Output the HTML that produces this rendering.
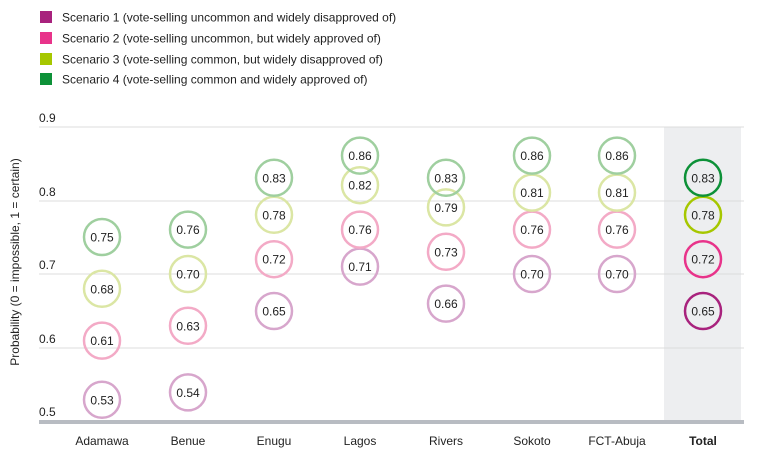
<!DOCTYPE html>
<html><head><style>body{margin:0;background:#fff}svg{display:block;font-family:"Liberation Sans",sans-serif}</style></head><body>
<svg width="764" height="475" viewBox="0 0 764 475" xmlns="http://www.w3.org/2000/svg">
<defs>
<style>.p1{stroke:#d7a6cc}.p2{stroke:#f3aac6}.p3{stroke:#dbe6a4}.p4{stroke:#9fcf9f}.d1{stroke:#a8227d}.d2{stroke:#e8338a}.d3{stroke:#a6c700}.d4{stroke:#0d9138}circle{fill:none;stroke-width:2.5}</style>
</defs>
<g font-size="12" fill="#222">
<rect x="40" y="11" width="12" height="12" fill="#a8227d"/><text x="62" y="21.5">Scenario 1 (vote-selling uncommon and widely disapproved of)</text>
<rect x="40" y="32" width="12" height="12" fill="#e8338a"/><text x="62" y="42.5">Scenario 2 (vote-selling uncommon, but widely approved of)</text>
<rect x="40" y="53" width="12" height="12" fill="#a6c700"/><text x="62" y="63.5">Scenario 3 (vote-selling common, but widely disapproved of)</text>
<rect x="40" y="73" width="12" height="12" fill="#0d9138"/><text x="62" y="83.5">Scenario 4 (vote-selling common and widely approved of)</text>
</g>
<rect x="664" y="127" width="77" height="295" fill="#edeef0"/>
<g stroke="#dcdcdc" stroke-width="1">
<line x1="39" y1="127" x2="744" y2="127"/><line x1="39" y1="201" x2="744" y2="201"/><line x1="39" y1="274" x2="744" y2="274"/><line x1="39" y1="348" x2="744" y2="348"/>
</g>
<rect x="39" y="420" width="705" height="4" fill="#b8bcc2"/>
<g font-size="12" fill="#222">
<text x="39" y="122">0.9</text><text x="39" y="196">0.8</text><text x="39" y="269">0.7</text><text x="39" y="343">0.6</text><text x="39" y="416">0.5</text>
<text transform="translate(19,262) rotate(-90)" text-anchor="middle">Probability (0 = impossible, 1 = certain)</text>
</g>
<g font-size="12" fill="#222" text-anchor="middle">
<text x="102" y="445">Adamawa</text><text x="188" y="445">Benue</text><text x="274" y="445">Enugu</text><text x="360" y="445">Lagos</text><text x="446" y="445">Rivers</text><text x="532" y="445">Sokoto</text><text x="617" y="445">FCT-Abuja</text><text x="703" y="445" font-weight="bold">Total</text>
</g>
<g>
<circle class="p1" cx="102" cy="399.8" r="18"/><circle class="p2" cx="102" cy="340.6" r="18"/><circle class="p3" cx="102" cy="288.8" r="18"/><circle class="p4" cx="102" cy="237" r="18"/>
<circle class="p1" cx="188" cy="392.4" r="18"/><circle class="p2" cx="188" cy="325.8" r="18"/><circle class="p3" cx="188" cy="274" r="18"/><circle class="p4" cx="188" cy="229.6" r="18"/>
<circle class="p1" cx="274" cy="311" r="18"/><circle class="p2" cx="274" cy="259.2" r="18"/><circle class="p3" cx="274" cy="214.8" r="18"/><circle class="p4" cx="274" cy="177.8" r="18"/>
<circle class="p1" cx="360" cy="266.6" r="18"/><circle class="p2" cx="360" cy="229.6" r="18"/><circle class="p3" cx="360" cy="185.2" r="18"/><circle class="p4" cx="360" cy="155.6" r="18"/>
<circle class="p1" cx="446" cy="303.6" r="18"/><circle class="p2" cx="446" cy="251.8" r="18"/><circle class="p3" cx="446" cy="207.4" r="18"/><circle class="p4" cx="446" cy="177.8" r="18"/>
<circle class="p1" cx="532" cy="274" r="18"/><circle class="p2" cx="532" cy="229.6" r="18"/><circle class="p3" cx="532" cy="192.6" r="18"/><circle class="p4" cx="532" cy="155.6" r="18"/>
<circle class="p1" cx="617" cy="274" r="18"/><circle class="p2" cx="617" cy="229.6" r="18"/><circle class="p3" cx="617" cy="192.6" r="18"/><circle class="p4" cx="617" cy="155.6" r="18"/>
<circle class="d1" cx="703" cy="311" r="18"/><circle class="d2" cx="703" cy="259.2" r="18"/><circle class="d3" cx="703" cy="214.8" r="18"/><circle class="d4" cx="703" cy="177.8" r="18"/>
</g>
<g font-size="12" fill="#222" text-anchor="middle">
<text x="102" y="404.3">0.53</text><text x="102" y="345.1">0.61</text><text x="102" y="293.3">0.68</text><text x="102" y="241.5">0.75</text>
<text x="188" y="396.9">0.54</text><text x="188" y="330.3">0.63</text><text x="188" y="278.5">0.70</text><text x="188" y="234.1">0.76</text>
<text x="274" y="315.5">0.65</text><text x="274" y="263.7">0.72</text><text x="274" y="219.3">0.78</text><text x="274" y="182.3">0.83</text>
<text x="360" y="271.1">0.71</text><text x="360" y="234.1">0.76</text><text x="360" y="189.7">0.82</text><text x="360" y="160.1">0.86</text>
<text x="446" y="308.1">0.66</text><text x="446" y="256.3">0.73</text><text x="446" y="211.9">0.79</text><text x="446" y="182.3">0.83</text>
<text x="532" y="278.5">0.70</text><text x="532" y="234.1">0.76</text><text x="532" y="197.1">0.81</text><text x="532" y="160.1">0.86</text>
<text x="617" y="278.5">0.70</text><text x="617" y="234.1">0.76</text><text x="617" y="197.1">0.81</text><text x="617" y="160.1">0.86</text>
<text x="703" y="315.5">0.65</text><text x="703" y="263.7">0.72</text><text x="703" y="219.3">0.78</text><text x="703" y="182.3">0.83</text>
</g>
</svg>
</body></html>
